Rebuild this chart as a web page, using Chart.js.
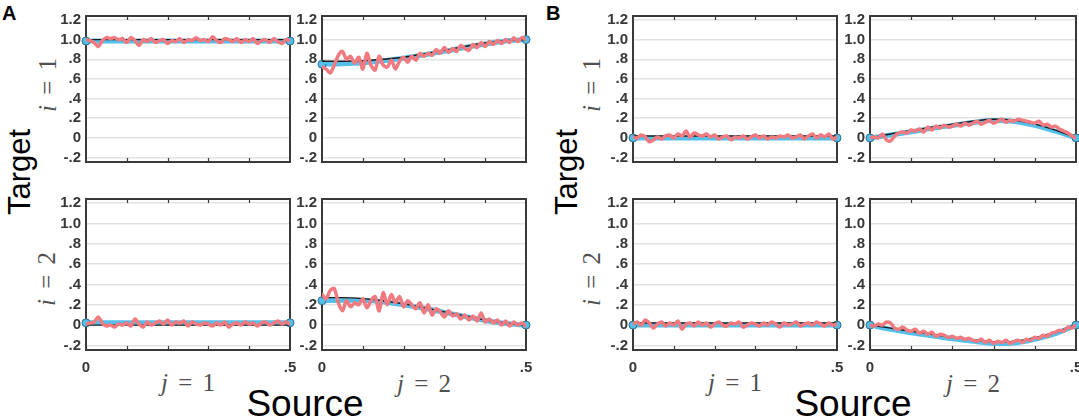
<!DOCTYPE html>
<html>
<head>
<meta charset="utf-8">
<script src="https://cdn.jsdelivr.net/npm/chart.js@4.4.1/dist/chart.umd.min.js"></script>
<style>
  body { margin: 0; width: 1079px; height: 420px; background: #fff; position: relative; overflow: hidden;
         font-family: "Liberation Sans", Arial, sans-serif; }
  canvas { position: absolute; }
  .lbl { position: absolute; white-space: nowrap; line-height: 1; transform: translate(-50%, -50%); }
  .panel { position: absolute; font-weight: bold; font-size: 20px; line-height: 1; color: #000; }
  .big { font-size: 37px; color: #000; }
  .tgt { font-size: 31px; color: #000; transform: translate(-50%, -50%) rotate(-90deg); }
  .idx { font-family: "Liberation Serif", "DejaVu Serif", serif; font-size: 25px; color: #505050; word-spacing: 4px; }
  .rot { transform: translate(-50%, -50%) rotate(-90deg); }
</style>
</head>
<body>
<div class="panel" style="left:2px;top:3px">A</div>
<div class="panel" style="left:546px;top:3px">B</div>

<div class="lbl tgt" style="left:19px;top:172px">Target</div>
<div class="lbl tgt" style="left:566px;top:172px">Target</div>
<div class="lbl big" style="left:305px;top:403px">Source</div>
<div class="lbl big" style="left:853px;top:403px">Source</div>

<div class="lbl idx rot" style="left:47px;top:85px"><i>i</i> = 1</div>
<div class="lbl idx rot" style="left:46px;top:279px"><i>i</i> = 2</div>
<div class="lbl idx rot" style="left:591px;top:85px"><i>i</i> = 1</div>
<div class="lbl idx rot" style="left:591px;top:279px"><i>i</i> = 2</div>

<div class="lbl idx" style="left:188px;top:382px"><i>j</i> = 1</div>
<div class="lbl idx" style="left:424px;top:383px"><i>j</i> = 2</div>
<div class="lbl idx" style="left:735px;top:382px"><i>j</i> = 1</div>
<div class="lbl idx" style="left:973px;top:383px"><i>j</i> = 2</div>

<script>
// axis ticks
const xTicks = [0, 0.1, 0.2, 0.3, 0.4, 0.5];
const xLabelTicks = [0, 0.5];
const xTickLabels = ["0", ".5"];
const yTicks = [-0.2, 0, 0.2, 0.4, 0.6, 0.8, 1.0, 1.2];
const yTickLabels = ["-.2", "0", ".2", ".4", ".6", ".8", "1.0", "1.2"];

// x positions (source)
const xCoarse = [0, 0.05, 0.1, 0.15, 0.2, 0.25, 0.3, 0.35, 0.4, 0.45, 0.5];
const xFine = [0, 0.01, 0.02, 0.03, 0.04, 0.05, 0.06, 0.07, 0.08, 0.09,
  0.1, 0.11, 0.12, 0.13, 0.14, 0.15, 0.16, 0.17, 0.18, 0.19,
  0.2, 0.21, 0.22, 0.23, 0.24, 0.25, 0.26, 0.27, 0.28, 0.29,
  0.3, 0.31, 0.32, 0.33, 0.34, 0.35, 0.36, 0.37, 0.38, 0.39,
  0.4, 0.41, 0.42, 0.43, 0.44, 0.45, 0.46, 0.47, 0.48, 0.49,
  0.5];

// true kernel (black) and fitted band edge (blue)
const truthA11 = [1, 1, 1, 1, 1, 1, 1, 1, 1, 1, 1];
const fitA11 = [0.985, 0.985, 0.985, 0.985, 0.985, 0.985, 0.985, 0.985, 0.985, 0.985, 0.985];
const truthA12 = [0.78, 0.78, 0.785, 0.8, 0.82, 0.855, 0.89, 0.93, 0.965, 0.99, 1.0];
const fitA12 = [0.75, 0.755, 0.765, 0.785, 0.81, 0.845, 0.88, 0.92, 0.955, 0.985, 1.0];
const truthA21 = [0, 0, 0, 0, 0, 0, 0, 0, 0, 0, 0];
const fitA21 = [0.022, 0.022, 0.022, 0.022, 0.022, 0.022, 0.022, 0.022, 0.022, 0.022, 0.022];
const truthA22 = [0.27, 0.27, 0.26, 0.24, 0.21, 0.17, 0.13, 0.09, 0.05, 0.02, 0.0];
const fitA22 = [0.24, 0.245, 0.245, 0.23, 0.2, 0.165, 0.125, 0.085, 0.045, 0.015, 0.0];
const truthB11 = [0.02, 0.02, 0.02, 0.02, 0.02, 0.02, 0.02, 0.02, 0.02, 0.02, 0.02];
const fitB11 = [0, 0, 0, 0, 0, 0, 0, 0, 0, 0, 0];
const truthB12 = [0, 0.04, 0.075, 0.11, 0.14, 0.17, 0.19, 0.18, 0.14, 0.08, 0];
const fitB12 = [0, 0.03, 0.062, 0.097, 0.127, 0.157, 0.177, 0.168, 0.128, 0.068, 0];
const truthB21 = [0.02, 0.02, 0.02, 0.02, 0.02, 0.02, 0.02, 0.02, 0.02, 0.02, 0.02];
const fitB21 = [0, 0, 0, 0, 0, 0, 0, 0, 0, 0, 0];
const truthB22 = [0, -0.03, -0.06, -0.09, -0.12, -0.145, -0.165, -0.16, -0.125, -0.07, 0];
const fitB22 = [0, -0.042, -0.075, -0.105, -0.135, -0.16, -0.18, -0.175, -0.14, -0.085, 0];

// noisy estimates (red)
const noisyA11 = [1.00, 0.99, 0.97, 0.93, 0.99, 1.02, 1.01, 1.02, 1.00, 1.01,
  0.97, 1.02, 0.99, 0.94, 1.00, 0.98, 1.01, 0.97, 0.99, 1.00,
  0.96, 0.99, 0.98, 1.01, 0.97, 1.00, 0.99, 1.02, 0.99, 1.00,
  0.98, 1.03, 0.99, 0.97, 1.01, 1.00, 0.98, 1.01, 0.97, 1.00,
  0.98, 1.01, 0.96, 0.99, 1.00, 0.97, 1.01, 0.98, 0.96, 1.00,
  0.99];
const noisyA12 = [0.72, 0.70, 0.66, 0.74, 0.84, 0.88, 0.80, 0.83, 0.76, 0.82,
  0.70, 0.86, 0.74, 0.69, 0.83, 0.74, 0.72, 0.79, 0.70, 0.78,
  0.82, 0.77, 0.83, 0.79, 0.86, 0.83, 0.86, 0.84, 0.90, 0.86,
  0.92, 0.87, 0.91, 0.88, 0.94, 0.91, 0.89, 0.95, 0.92, 0.97,
  0.93, 0.98, 0.95, 0.99, 0.96, 1.00, 0.97, 1.02, 0.98, 1.02,
  1.00];
const noisyA21 = [0.01, 0.02, 0.03, 0.08, 0.02, -0.01, 0.00, -0.02, 0.01, 0.00,
  0.02, -0.01, 0.06, 0.01, -0.02, 0.03, 0.00, 0.02, 0.04, 0.01,
  0.05, 0.00, 0.03, 0.02, 0.04, -0.01, 0.03, 0.01, 0.00, 0.02,
  0.01, -0.01, 0.02, 0.00, 0.03, -0.02, 0.01, 0.02, 0.00, 0.03,
  0.01, 0.02, -0.01, 0.02, 0.03, 0.00, 0.02, 0.04, 0.01, 0.03,
  0.01];
const noisyA22 = [0.30, 0.26, 0.34, 0.36, 0.22, 0.14, 0.24, 0.18, 0.22, 0.20,
  0.26, 0.17, 0.24, 0.28, 0.14, 0.32, 0.20, 0.30, 0.22, 0.28,
  0.18, 0.24, 0.20, 0.16, 0.22, 0.12, 0.20, 0.10, 0.16, 0.13,
  0.08, 0.14, 0.09, 0.11, 0.06, 0.10, 0.05, 0.09, 0.04, 0.12,
  0.03, 0.06, 0.02, 0.05, 0.00, 0.04, -0.01, 0.03, 0.00, 0.02,
  -0.01];
const noisyB11 = [0.01, 0.00, 0.03, 0.01, -0.04, -0.02, 0.01, -0.01, 0.02, 0.03,
  0.00, 0.04, 0.02, 0.07, 0.01, 0.05, 0.03, 0.02, 0.04, 0.01,
  0.03, -0.01, 0.01, 0.02, -0.02, 0.01, 0.00, 0.02, -0.01, 0.01,
  0.03, 0.00, 0.02, -0.01, 0.01, 0.00, 0.02, 0.01, 0.03, 0.00,
  0.01, 0.03, -0.01, 0.02, 0.04, 0.00, 0.03, 0.01, 0.04, -0.01,
  0.01];
const noisyB12 = [0.00, 0.01, 0.00, 0.04, -0.02, -0.03, 0.02, 0.05, 0.06, 0.05,
  0.08, 0.07, 0.09, 0.06, 0.11, 0.08, 0.12, 0.10, 0.13, 0.11,
  0.12, 0.14, 0.12, 0.15, 0.13, 0.15, 0.17, 0.14, 0.16, 0.18,
  0.15, 0.17, 0.19, 0.16, 0.18, 0.17, 0.19, 0.18, 0.17, 0.16,
  0.15, 0.17, 0.13, 0.14, 0.11, 0.12, 0.09, 0.07, 0.05, 0.02,
  0.00];
const noisyB21 = [0.01, 0.03, 0.00, 0.05, 0.02, -0.03, 0.01, 0.03, -0.01, 0.02,
  0.00, 0.04, -0.04, 0.01, 0.02, -0.01, 0.03, 0.00, 0.02, -0.02,
  0.01, 0.03, 0.00, -0.01, 0.02, 0.01, 0.03, -0.02, 0.00, 0.02,
  0.01, -0.01, 0.02, 0.00, 0.03, 0.01, -0.02, 0.02, 0.00, 0.01,
  0.03, -0.01, 0.01, 0.02, 0.00, 0.03, 0.01, -0.01, 0.02, 0.00,
  0.01];
const noisyB22 = [0.00, -0.01, 0.01, 0.00, 0.03, 0.02, -0.03, -0.04, -0.02, -0.05,
  -0.06, -0.04, -0.08, -0.06, -0.09, -0.07, -0.11, -0.09, -0.10, -0.12,
  -0.11, -0.13, -0.12, -0.14, -0.13, -0.15, -0.16, -0.14, -0.17, -0.15,
  -0.18, -0.16, -0.17, -0.15, -0.18, -0.16, -0.15, -0.17, -0.14, -0.15,
  -0.12, -0.13, -0.10, -0.11, -0.08, -0.07, -0.05, -0.06, -0.02, -0.03,
  0.00];

// plot boxes (left, right, top, bottom of the axes frame, in page pixels)
const subplots = [
  { L: 86,  R: 290,  T: 10,  B: 168, bottomRow: false, truth: truthA11, fit: fitA11, noisy: noisyA11 },
  { L: 322, R: 526,  T: 10,  B: 168, bottomRow: false, truth: truthA12, fit: fitA12, noisy: noisyA12 },
  { L: 86,  R: 290,  T: 193, B: 350, bottomRow: true,  truth: truthA21, fit: fitA21, noisy: noisyA21 },
  { L: 322, R: 526,  T: 193, B: 350, bottomRow: true,  truth: truthA22, fit: fitA22, noisy: noisyA22 },
  { L: 633, R: 837,  T: 10,  B: 168, bottomRow: false, truth: truthB11, fit: fitB11, noisy: noisyB11 },
  { L: 870, R: 1076, T: 10,  B: 168, bottomRow: false, truth: truthB12, fit: fitB12, noisy: noisyB12 },
  { L: 633, R: 837,  T: 193, B: 350, bottomRow: true,  truth: truthB21, fit: fitB21, noisy: noisyB21 },
  { L: 870, R: 1076, T: 193, B: 350, bottomRow: true,  truth: truthB22, fit: fitB22, noisy: noisyB22 },
];

const BLUE = "#55bfeb";
const RED = "#f07a7f";
const AXIS_W = 50, PAD_R = 14, PAD_T = 8, XAXIS_H = 24;

Chart.defaults.font.family = '"Liberation Sans", Arial, sans-serif';
Chart.defaults.font.size = 15;
Chart.defaults.font.weight = "bold";
Chart.defaults.color = "#383838";

const pts = (xs, ys) => ys.map((y, i) => ({ x: xs[i], y }));

// matlab-like box with inward ticks
const framePlugin = {
  id: "frame",
  beforeDatasetsDraw(chart) {
    const { ctx, chartArea: a, scales: { x } } = chart;
    ctx.save();
    ctx.strokeStyle = "#3a3a3a";
    ctx.lineWidth = 1.2;
    ctx.beginPath();
    xTicks.slice(1, -1).forEach((v) => {
      const px = Math.round(x.getPixelForValue(v)) + 0.5;
      ctx.moveTo(px, a.top); ctx.lineTo(px, a.top + 4);
      ctx.moveTo(px, a.bottom); ctx.lineTo(px, a.bottom - 4);
    });
    ctx.stroke();
    ctx.lineWidth = 2;
    ctx.strokeRect(a.left, a.top, a.right - a.left, a.bottom - a.top);
    ctx.restore();
  },
};

subplots.forEach((p) => {
  const canvas = document.createElement("canvas");
  const w = (p.R - p.L) + AXIS_W + PAD_R;
  const h = (p.B - p.T) + PAD_T + (p.bottomRow ? XAXIS_H : 8);
  canvas.width = w;
  canvas.height = h;
  canvas.style.left = (p.L - AXIS_W) + "px";
  canvas.style.top = (p.T - PAD_T) + "px";
  canvas.style.width = w + "px";
  canvas.style.height = h + "px";
  document.body.appendChild(canvas);

  const lastIdx = p.fit.length - 1;

  new Chart(canvas, {
    type: "line",
    data: {
      datasets: [
        {
          // noisy estimate
          data: pts(xFine, p.noisy),
          borderColor: RED,
          borderWidth: 3.5,
          borderJoinStyle: "round",
          borderCapStyle: "round",
          pointRadius: 0,
          tension: 0.3,
          order: 0,
        },
        {
          // true kernel, band filled to the fitted edge
          data: pts(xCoarse, p.truth),
          borderColor: "#1c1c1c",
          borderWidth: 1.4,
          pointRadius: 0,
          cubicInterpolationMode: "monotone",
          fill: 2,
          backgroundColor: BLUE,
          order: 1,
        },
        {
          data: pts(xCoarse, p.fit),
          borderColor: BLUE,
          borderWidth: 5,
          borderCapStyle: "round",
          cubicInterpolationMode: "monotone",
          pointRadius: (c) => (c.dataIndex === 0 || c.dataIndex === lastIdx ? 4 : 0),
          pointBackgroundColor: BLUE,
          pointBorderColor: "#2f6f8c",
          pointBorderWidth: 1,
          clip: false,
          order: 2,
        },
      ],
    },
    options: {
      responsive: false,
      animation: false,
      events: [],
      layout: { padding: { left: 0, right: PAD_R, top: PAD_T, bottom: p.bottomRow ? 0 : 8 } },
      plugins: { legend: { display: false }, tooltip: { enabled: false } },
      scales: {
        x: {
          type: "linear",
          min: 0,
          max: 0.5,
          grid: { display: false },
          border: { display: false },
          afterBuildTicks: (s) => { s.ticks = xLabelTicks.map((v) => ({ value: v })); },
          ticks: {
            display: p.bottomRow,
            padding: 1,
            maxRotation: 0,
            autoSkip: false,
            callback: (v, i) => xTickLabels[i],
          },
          afterFit: (s) => { s.height = p.bottomRow ? XAXIS_H : 0; },
        },
        y: {
          min: -0.245,
          max: 1.24,
          grid: { color: "#e3e3e3", lineWidth: 1.5, drawTicks: false },
          border: { display: false },
          afterBuildTicks: (s) => { s.ticks = yTicks.map((v) => ({ value: v })); },
          ticks: {
            padding: 5,
            autoSkip: false,
            callback: (v, i) => yTickLabels[i],
          },
          afterFit: (s) => { s.width = AXIS_W; },
        },
      },
    },
    plugins: [framePlugin],
  });
});
</script>
</body>
</html>
